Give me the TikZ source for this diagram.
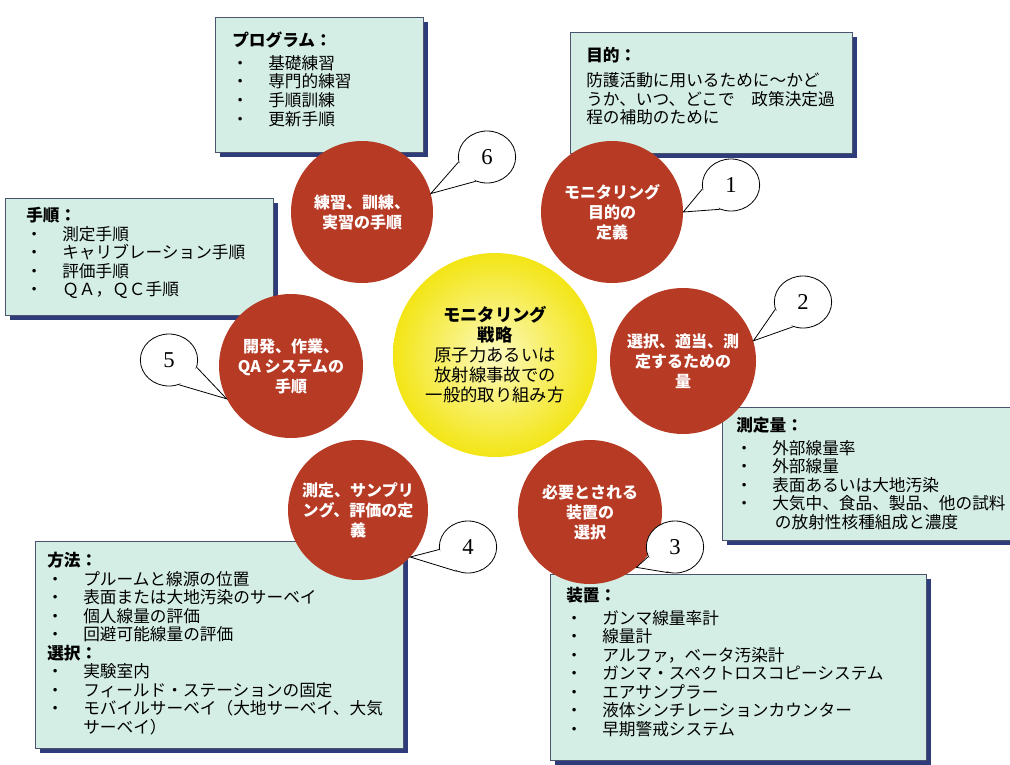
\documentclass[tikz,border=0pt]{standalone}
\usepackage{fontspec}
\setmainfont{Noto Sans CJK JP}
\newfontfamily\numfont{Liberation Serif}
\usetikzlibrary{shapes.geometric}
\definecolor{boxfill}{HTML}{D4EEE6}
\definecolor{boxline}{HTML}{4A5470}
\definecolor{shadowc}{HTML}{2E3C7A}
\definecolor{redc}{HTML}{B63A24}
\definecolor{yelin}{HTML}{FCFAC0}
\definecolor{yelout}{HTML}{F3E515}
\def\itmw{27pt}\def\bulo{6pt}
\newcommand\itm[1]{\makebox[\itmw][l]{\hspace*{\bulo}\makebox[0pt][c]{・}}#1}
\tikzset{
  infobox/.style={fill=boxfill, draw=boxline, line width=0.6pt},
  boxshadow/.style={fill=shadowc},
  boxtext/.style={anchor=north west, align=left, inner sep=0pt, text=black,
    font=\fontsize{12.5}{13.9}\selectfont},
  redcircle/.style={circle, fill=redc, text=white, align=center, inner sep=0pt,
    font=\bfseries\fontsize{12}{15}\selectfont},
  centercircle/.style={circle, inner color=yelin, outer color=yelout, align=center,
    inner sep=0pt, font=\fontsize{13}{15}\selectfont},
  callout/.style={ellipse, draw=black, fill=white, line width=0.6pt,
    minimum width=43pt, minimum height=39pt, inner sep=0pt,
    font=\numfont\fontsize{17}{17}\selectfont},
  pointerline/.style={draw=black, line width=0.6pt},
}
\begin{document}
\begin{tikzpicture}[x=0.75pt,y=-0.75pt]
\useasboundingbox (0,0) rectangle (1010,764);
\fill[white] (0,0) rectangle (1010,764);

% ---- boxes ----
% program
\fill[boxshadow] (220,22) rectangle (428,157);
\draw[infobox] (215,17) rectangle (423,152);
\node[boxtext] (tprog) at (232,32) {\def\bulo{6pt}\def\itmw{27pt}%
  \textbf{プログラム：}\\[3pt]
  \itm{基礎練習}\\ \itm{専門的練習}\\ \itm{手順訓練}\\ \itm{更新手順}};
% purpose
\fill[boxshadow] (575,37) rectangle (857,158);
\draw[infobox] (570,32) rectangle (852,153);
\node[boxtext] (tpurp) at (586,47) {%
  \textbf{目的：}\\[5pt]
  防護活動に用いるために～かど\\
  うか、いつ、どこで　政策決定過\\
  程の補助のために};
% procedures
\fill[boxshadow] (10,203) rectangle (278,320);
\draw[infobox] (5,198) rectangle (273,315);
\node[boxtext] (tproc) at (26,207) {\def\bulo{4.5pt}\def\itmw{28pt}%
  \textbf{手順：}\\
  \itm{測定手順}\\ \itm{キャリブレーション手順}\\ \itm{評価手順}\\ \itm{ＱＡ，ＱＣ手順}};
% quantities
\fill[boxshadow] (727,412) rectangle (1020,545);
\draw[infobox] (722,407) rectangle (1020,540);
\node[boxtext] (tquan) at (736,417) {\def\bulo{2pt}\def\itmw{29pt}%
  \textbf{測定量：}\\[3pt]
  \itm{外部線量率}\\ \itm{外部線量}\\ \itm{表面あるいは大地汚染}\\
  \itm{大気中、食品、製品、他の試料}\\ \hspace*{29pt}の放射性核種組成と濃度};
% methods
\fill[boxshadow] (40,546) rectangle (408,753);
\draw[infobox] (35,541) rectangle (403,748);
\node[boxtext] (tmeth) at (47,552) {\def\bulo{6pt}\def\itmw{27pt}%
  \textbf{方法：}\\
  \itm{プルームと線源の位置}\\ \itm{表面または大地汚染のサーベイ}\\
  \itm{個人線量の評価}\\ \itm{回避可能線量の評価}\\
  \textbf{選択：}\\
  \itm{実験室内}\\ \itm{フィールド・ステーションの固定}\\
  \itm{モバイルサーベイ（大地サーベイ、大気}\\ \hspace*{27pt}サーベイ）};
% equipment
\fill[boxshadow] (555,579) rectangle (931,765);
\draw[infobox] (550,574) rectangle (926,760);
\node[boxtext] (tequi) at (566,587) {\def\bulo{7pt}\def\itmw{31pt}%
  \textbf{装置：}\\[3pt]
  \itm{ガンマ線量率計}\\ \itm{線量計}\\ \itm{アルファ，ベータ汚染計}\\
  \itm{ガンマ・スペクトロスコピーシステム}\\ \itm{エアサンプラー}\\
  \itm{液体シンチレーションカウンター}\\ \itm{早期警戒システム}};

% ---- center ----
\node[centercircle, minimum size=153pt] (center) at (495,355)
  {\textbf{モニタリング}\\ \textbf{戦略}\\ 原子力あるいは\\ 放射線事故での\\ 一般的取り組み方};

% ---- red circles ----
\node[redcircle, minimum size=106.5pt] (c1) at (612,212) {モニタリング\\目的の\\定義};
\node[redcircle, minimum size=109.5pt] (c2) at (683,361) {選択、適当、測\\定するための\\量};
\node[redcircle, minimum size=108pt] (c3) at (590,512) {必要とされる\\装置の\\選択};
\node[redcircle, minimum size=105pt] (c4) at (358,510) {測定、サンプリ\\ング、評価の定\\義};
\node[redcircle, minimum size=108pt] (c5) at (291,366) {開発、作業、\\QA システムの\\手順};
\node[redcircle, minimum size=106.5pt] (c6) at (362,212) {練習、訓練、\\実習の手順};

% ---- callouts ----
\node[callout] (k1) at (731,185) {1};
\node[callout] (k2) at (803,302) {2};
\node[callout] (k3) at (675,547) {3};
\node[callout] (k4) at (468,547) {4};
\node[callout] (k5) at (169,360) {5};
\node[callout] (k6) at (487,157) {6};

\coordinate (t1) at (c1.0);
\coordinate (t2) at (c2.16);
\coordinate (t3) at (c3.-50);
\coordinate (t4) at (c4.-42);
\coordinate (t5) at (c5.-153);
\coordinate (t6) at (c6.15);

\foreach \k/\t/\a/\b in {k1/t1/188/245, k2/t2/195/248, k3/t3/200/255,
                         k4/t4/185/245, k5/t5/292/345, k6/t6/190/245}{
  \fill[white] (\k.\a) -- (\t) -- (\k.\b) -- cycle;
  \draw[pointerline] (\k.\a) -- (\t) -- (\k.\b);
}
\end{tikzpicture}
\end{document}
